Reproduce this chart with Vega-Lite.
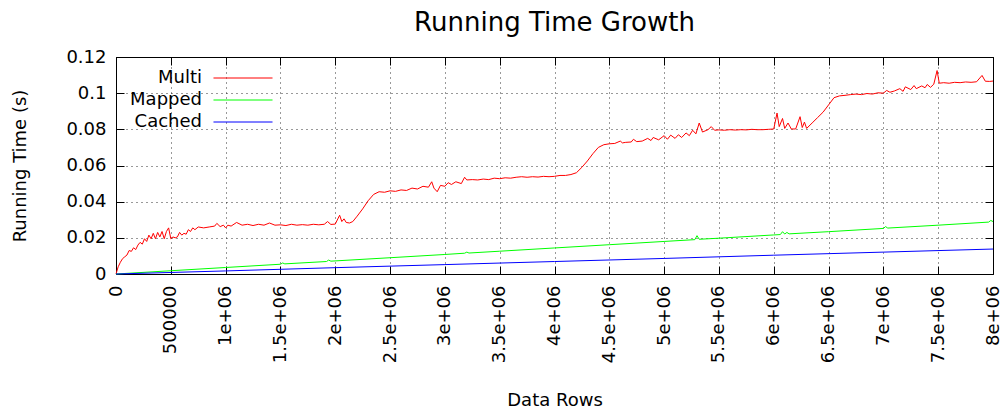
{
  "$schema": "https://vega.github.io/schema/vega-lite/v6.json",
  "width": 877,
  "height": 217,
  "autosize": {"type": "none"},
  "padding": {"left": 116, "top": 57, "right": 8, "bottom": 142},
  "background": "white",
  "title": {"text": "Running Time Growth", "fontSize": 26, "fontWeight": "normal", "font": "DejaVu Sans", "anchor": "middle", "offset": 12, "color": "black"},
  "data": {
    "values": [
      {"rows":0,"time":0,"series":"Multi"},{"rows":20000,"time":0.004,"series":"Multi"},{"rows":40000,"time":0.0065,"series":"Multi"},{"rows":60000,"time":0.0085,"series":"Multi"},{"rows":80000,"time":0.0095,"series":"Multi"},{"rows":100000,"time":0.0105,"series":"Multi"},{"rows":120000,"time":0.013,"series":"Multi"},{"rows":140000,"time":0.0125,"series":"Multi"},{"rows":160000,"time":0.0145,"series":"Multi"},{"rows":180000,"time":0.0135,"series":"Multi"},{"rows":200000,"time":0.016,"series":"Multi"},{"rows":220000,"time":0.0175,"series":"Multi"},{"rows":240000,"time":0.0165,"series":"Multi"},{"rows":260000,"time":0.0195,"series":"Multi"},{"rows":280000,"time":0.018,"series":"Multi"},{"rows":300000,"time":0.0215,"series":"Multi"},{"rows":320000,"time":0.0195,"series":"Multi"},{"rows":340000,"time":0.0225,"series":"Multi"},{"rows":360000,"time":0.0195,"series":"Multi"},{"rows":380000,"time":0.023,"series":"Multi"},{"rows":400000,"time":0.0205,"series":"Multi"},{"rows":420000,"time":0.0235,"series":"Multi"},{"rows":440000,"time":0.0195,"series":"Multi"},{"rows":460000,"time":0.0235,"series":"Multi"},{"rows":480000,"time":0.0255,"series":"Multi"},{"rows":500000,"time":0.0195,"series":"Multi"},{"rows":520000,"time":0.0205,"series":"Multi"},{"rows":540000,"time":0.02,"series":"Multi"},{"rows":560000,"time":0.0205,"series":"Multi"},{"rows":580000,"time":0.023,"series":"Multi"},{"rows":600000,"time":0.0215,"series":"Multi"},{"rows":620000,"time":0.0225,"series":"Multi"},{"rows":640000,"time":0.022,"series":"Multi"},{"rows":660000,"time":0.0245,"series":"Multi"},{"rows":680000,"time":0.0235,"series":"Multi"},{"rows":700000,"time":0.0255,"series":"Multi"},{"rows":720000,"time":0.0245,"series":"Multi"},{"rows":750000,"time":0.026,"series":"Multi"},{"rows":800000,"time":0.0255,"series":"Multi"},{"rows":850000,"time":0.026,"series":"Multi"},{"rows":900000,"time":0.0265,"series":"Multi"},{"rows":920000,"time":0.028,"series":"Multi"},{"rows":950000,"time":0.0262,"series":"Multi"},{"rows":980000,"time":0.027,"series":"Multi"},{"rows":1000000,"time":0.0255,"series":"Multi"},{"rows":1020000,"time":0.027,"series":"Multi"},{"rows":1050000,"time":0.0265,"series":"Multi"},{"rows":1100000,"time":0.0285,"series":"Multi"},{"rows":1150000,"time":0.027,"series":"Multi"},{"rows":1200000,"time":0.0275,"series":"Multi"},{"rows":1250000,"time":0.0268,"series":"Multi"},{"rows":1300000,"time":0.0275,"series":"Multi"},{"rows":1350000,"time":0.027,"series":"Multi"},{"rows":1400000,"time":0.0282,"series":"Multi"},{"rows":1450000,"time":0.027,"series":"Multi"},{"rows":1500000,"time":0.0272,"series":"Multi"},{"rows":1550000,"time":0.0268,"series":"Multi"},{"rows":1600000,"time":0.0275,"series":"Multi"},{"rows":1650000,"time":0.027,"series":"Multi"},{"rows":1700000,"time":0.0273,"series":"Multi"},{"rows":1750000,"time":0.027,"series":"Multi"},{"rows":1800000,"time":0.0275,"series":"Multi"},{"rows":1850000,"time":0.0272,"series":"Multi"},{"rows":1900000,"time":0.0275,"series":"Multi"},{"rows":1930000,"time":0.029,"series":"Multi"},{"rows":1960000,"time":0.0274,"series":"Multi"},{"rows":2000000,"time":0.0276,"series":"Multi"},{"rows":2040000,"time":0.0325,"series":"Multi"},{"rows":2060000,"time":0.029,"series":"Multi"},{"rows":2080000,"time":0.0305,"series":"Multi"},{"rows":2100000,"time":0.0285,"series":"Multi"},{"rows":2130000,"time":0.0282,"series":"Multi"},{"rows":2160000,"time":0.029,"series":"Multi"},{"rows":2200000,"time":0.032,"series":"Multi"},{"rows":2250000,"time":0.036,"series":"Multi"},{"rows":2300000,"time":0.0405,"series":"Multi"},{"rows":2350000,"time":0.044,"series":"Multi"},{"rows":2400000,"time":0.0455,"series":"Multi"},{"rows":2450000,"time":0.0452,"series":"Multi"},{"rows":2500000,"time":0.046,"series":"Multi"},{"rows":2550000,"time":0.0457,"series":"Multi"},{"rows":2600000,"time":0.0465,"series":"Multi"},{"rows":2650000,"time":0.0462,"series":"Multi"},{"rows":2700000,"time":0.0475,"series":"Multi"},{"rows":2750000,"time":0.047,"series":"Multi"},{"rows":2800000,"time":0.0485,"series":"Multi"},{"rows":2850000,"time":0.048,"series":"Multi"},{"rows":2880000,"time":0.051,"series":"Multi"},{"rows":2900000,"time":0.0475,"series":"Multi"},{"rows":2930000,"time":0.0455,"series":"Multi"},{"rows":2960000,"time":0.049,"series":"Multi"},{"rows":3000000,"time":0.0485,"series":"Multi"},{"rows":3030000,"time":0.0505,"series":"Multi"},{"rows":3060000,"time":0.0495,"series":"Multi"},{"rows":3100000,"time":0.051,"series":"Multi"},{"rows":3150000,"time":0.05,"series":"Multi"},{"rows":3180000,"time":0.0535,"series":"Multi"},{"rows":3200000,"time":0.052,"series":"Multi"},{"rows":3250000,"time":0.0522,"series":"Multi"},{"rows":3300000,"time":0.052,"series":"Multi"},{"rows":3350000,"time":0.0525,"series":"Multi"},{"rows":3400000,"time":0.0522,"series":"Multi"},{"rows":3450000,"time":0.053,"series":"Multi"},{"rows":3500000,"time":0.0527,"series":"Multi"},{"rows":3550000,"time":0.0532,"series":"Multi"},{"rows":3600000,"time":0.053,"series":"Multi"},{"rows":3650000,"time":0.0535,"series":"Multi"},{"rows":3700000,"time":0.0538,"series":"Multi"},{"rows":3750000,"time":0.0535,"series":"Multi"},{"rows":3800000,"time":0.0538,"series":"Multi"},{"rows":3850000,"time":0.0536,"series":"Multi"},{"rows":3900000,"time":0.054,"series":"Multi"},{"rows":3950000,"time":0.0538,"series":"Multi"},{"rows":4000000,"time":0.054,"series":"Multi"},{"rows":4050000,"time":0.0545,"series":"Multi"},{"rows":4100000,"time":0.0545,"series":"Multi"},{"rows":4150000,"time":0.055,"series":"Multi"},{"rows":4200000,"time":0.056,"series":"Multi"},{"rows":4250000,"time":0.059,"series":"Multi"},{"rows":4300000,"time":0.0625,"series":"Multi"},{"rows":4350000,"time":0.0665,"series":"Multi"},{"rows":4400000,"time":0.07,"series":"Multi"},{"rows":4450000,"time":0.0715,"series":"Multi"},{"rows":4500000,"time":0.072,"series":"Multi"},{"rows":4550000,"time":0.0722,"series":"Multi"},{"rows":4600000,"time":0.0735,"series":"Multi"},{"rows":4620000,"time":0.0725,"series":"Multi"},{"rows":4650000,"time":0.0728,"series":"Multi"},{"rows":4700000,"time":0.073,"series":"Multi"},{"rows":4720000,"time":0.0745,"series":"Multi"},{"rows":4750000,"time":0.0732,"series":"Multi"},{"rows":4800000,"time":0.0735,"series":"Multi"},{"rows":4850000,"time":0.075,"series":"Multi"},{"rows":4880000,"time":0.0738,"series":"Multi"},{"rows":4900000,"time":0.0755,"series":"Multi"},{"rows":4950000,"time":0.0742,"series":"Multi"},{"rows":5000000,"time":0.0765,"series":"Multi"},{"rows":5030000,"time":0.0745,"series":"Multi"},{"rows":5060000,"time":0.0768,"series":"Multi"},{"rows":5100000,"time":0.075,"series":"Multi"},{"rows":5130000,"time":0.077,"series":"Multi"},{"rows":5160000,"time":0.0755,"series":"Multi"},{"rows":5200000,"time":0.078,"series":"Multi"},{"rows":5230000,"time":0.0765,"series":"Multi"},{"rows":5260000,"time":0.0795,"series":"Multi"},{"rows":5290000,"time":0.0775,"series":"Multi"},{"rows":5320000,"time":0.0835,"series":"Multi"},{"rows":5350000,"time":0.0785,"series":"Multi"},{"rows":5400000,"time":0.0798,"series":"Multi"},{"rows":5430000,"time":0.0815,"series":"Multi"},{"rows":5460000,"time":0.0795,"series":"Multi"},{"rows":5500000,"time":0.0797,"series":"Multi"},{"rows":5550000,"time":0.0795,"series":"Multi"},{"rows":5600000,"time":0.0798,"series":"Multi"},{"rows":5650000,"time":0.0796,"series":"Multi"},{"rows":5700000,"time":0.0798,"series":"Multi"},{"rows":5750000,"time":0.0797,"series":"Multi"},{"rows":5800000,"time":0.08,"series":"Multi"},{"rows":5850000,"time":0.0798,"series":"Multi"},{"rows":5900000,"time":0.0798,"series":"Multi"},{"rows":5950000,"time":0.08,"series":"Multi"},{"rows":6000000,"time":0.0802,"series":"Multi"},{"rows":6030000,"time":0.089,"series":"Multi"},{"rows":6050000,"time":0.0815,"series":"Multi"},{"rows":6080000,"time":0.086,"series":"Multi"},{"rows":6100000,"time":0.0805,"series":"Multi"},{"rows":6130000,"time":0.0835,"series":"Multi"},{"rows":6160000,"time":0.0802,"series":"Multi"},{"rows":6200000,"time":0.0802,"series":"Multi"},{"rows":6240000,"time":0.087,"series":"Multi"},{"rows":6260000,"time":0.081,"series":"Multi"},{"rows":6280000,"time":0.084,"series":"Multi"},{"rows":6300000,"time":0.0805,"series":"Multi"},{"rows":6350000,"time":0.0835,"series":"Multi"},{"rows":6400000,"time":0.0865,"series":"Multi"},{"rows":6450000,"time":0.0895,"series":"Multi"},{"rows":6500000,"time":0.0935,"series":"Multi"},{"rows":6550000,"time":0.0975,"series":"Multi"},{"rows":6600000,"time":0.0985,"series":"Multi"},{"rows":6650000,"time":0.0988,"series":"Multi"},{"rows":6700000,"time":0.0992,"series":"Multi"},{"rows":6750000,"time":0.0995,"series":"Multi"},{"rows":6800000,"time":0.0992,"series":"Multi"},{"rows":6850000,"time":0.0998,"series":"Multi"},{"rows":6900000,"time":0.0995,"series":"Multi"},{"rows":6950000,"time":0.1002,"series":"Multi"},{"rows":7000000,"time":0.1,"series":"Multi"},{"rows":7030000,"time":0.1015,"series":"Multi"},{"rows":7060000,"time":0.1005,"series":"Multi"},{"rows":7100000,"time":0.1012,"series":"Multi"},{"rows":7150000,"time":0.1025,"series":"Multi"},{"rows":7180000,"time":0.101,"series":"Multi"},{"rows":7200000,"time":0.1035,"series":"Multi"},{"rows":7250000,"time":0.102,"series":"Multi"},{"rows":7280000,"time":0.1042,"series":"Multi"},{"rows":7300000,"time":0.1025,"series":"Multi"},{"rows":7350000,"time":0.104,"series":"Multi"},{"rows":7380000,"time":0.103,"series":"Multi"},{"rows":7400000,"time":0.1048,"series":"Multi"},{"rows":7430000,"time":0.1032,"series":"Multi"},{"rows":7460000,"time":0.105,"series":"Multi"},{"rows":7490000,"time":0.1125,"series":"Multi"},{"rows":7510000,"time":0.1055,"series":"Multi"},{"rows":7550000,"time":0.1058,"series":"Multi"},{"rows":7600000,"time":0.1055,"series":"Multi"},{"rows":7650000,"time":0.106,"series":"Multi"},{"rows":7700000,"time":0.1058,"series":"Multi"},{"rows":7750000,"time":0.1062,"series":"Multi"},{"rows":7800000,"time":0.106,"series":"Multi"},{"rows":7850000,"time":0.1063,"series":"Multi"},{"rows":7900000,"time":0.1098,"series":"Multi"},{"rows":7930000,"time":0.1066,"series":"Multi"},{"rows":7970000,"time":0.1065,"series":"Multi"},{"rows":8000000,"time":0.1067,"series":"Multi"},
      {"rows":0,"time":0,"series":"Mapped"},{"rows":500000,"time":0.0018,"series":"Mapped"},{"rows":1000000,"time":0.0036,"series":"Mapped"},{"rows":1500000,"time":0.0054,"series":"Mapped"},{"rows":1520000,"time":0.0061,"series":"Mapped"},{"rows":1540000,"time":0.0056,"series":"Mapped"},{"rows":1920000,"time":0.0069,"series":"Mapped"},{"rows":1940000,"time":0.0077,"series":"Mapped"},{"rows":1960000,"time":0.0071,"series":"Mapped"},{"rows":2500000,"time":0.009,"series":"Mapped"},{"rows":3000000,"time":0.0108,"series":"Mapped"},{"rows":3180000,"time":0.0115,"series":"Mapped"},{"rows":3200000,"time":0.0121,"series":"Mapped"},{"rows":3220000,"time":0.0116,"series":"Mapped"},{"rows":3500000,"time":0.0126,"series":"Mapped"},{"rows":4000000,"time":0.0144,"series":"Mapped"},{"rows":4500000,"time":0.0162,"series":"Mapped"},{"rows":5000000,"time":0.018,"series":"Mapped"},{"rows":5280000,"time":0.019,"series":"Mapped"},{"rows":5300000,"time":0.0212,"series":"Mapped"},{"rows":5320000,"time":0.0192,"series":"Mapped"},{"rows":5500000,"time":0.0198,"series":"Mapped"},{"rows":6000000,"time":0.0216,"series":"Mapped"},{"rows":6060000,"time":0.0218,"series":"Mapped"},{"rows":6080000,"time":0.0234,"series":"Mapped"},{"rows":6100000,"time":0.0221,"series":"Mapped"},{"rows":6120000,"time":0.023,"series":"Mapped"},{"rows":6140000,"time":0.0222,"series":"Mapped"},{"rows":6500000,"time":0.0234,"series":"Mapped"},{"rows":7000000,"time":0.0252,"series":"Mapped"},{"rows":7020000,"time":0.0262,"series":"Mapped"},{"rows":7040000,"time":0.0254,"series":"Mapped"},{"rows":7500000,"time":0.027,"series":"Mapped"},{"rows":7960000,"time":0.0287,"series":"Mapped"},{"rows":7980000,"time":0.0296,"series":"Mapped"},{"rows":8000000,"time":0.029,"series":"Mapped"},
      {"rows":0,"time":0,"series":"Cached"},{"rows":1000000,"time":0.0017,"series":"Cached"},{"rows":2000000,"time":0.0035,"series":"Cached"},{"rows":3000000,"time":0.0052,"series":"Cached"},{"rows":4000000,"time":0.0069,"series":"Cached"},{"rows":5000000,"time":0.0086,"series":"Cached"},{"rows":6000000,"time":0.0104,"series":"Cached"},{"rows":7000000,"time":0.0121,"series":"Cached"},{"rows":8000000,"time":0.0138,"series":"Cached"}
    ]
  },
  "layer": [
    {
      "mark": {"type": "line", "strokeWidth": 1},
      "encoding": {
        "x": {
          "field": "rows", "type": "quantitative", "title": "Data Rows",
          "scale": {"domain": [0, 8000000], "nice": false, "zero": false},
          "axis": {
            "orient": "bottom",
            "values": [0,500000,1000000,1500000,2000000,2500000,3000000,3500000,4000000,4500000,5000000,5500000,6000000,6500000,7000000,7500000,8000000],
            "labelExpr": "datum.value == 0 ? '0' : datum.value == 500000 ? '500000' : format(datum.value / 1000000, '~g') + 'e+06'",
            "labelAngle": 270, "labelAlign": "right", "labelBaseline": "middle",
            "labelPadding": 19, "labelFlush": false, "labelOverlap": false, "labelFontSize": 18,
            "tickSize": -8, "titleX": 438.5, "titleY": 126, "titleBaseline": "middle", "titleAlign": "center"
          }
        },
        "y": {
          "field": "time", "type": "quantitative", "title": "Running Time (s)",
          "scale": {"domain": [0, 0.12], "nice": false},
          "axis": {
            "orient": "left",
            "values": [0,0.02,0.04,0.06,0.08,0.1,0.12],
            "labelExpr": "datum.value == 0 ? '0' : format(datum.value, '.2~f')",
            "labelPadding": 18, "labelFlush": false, "labelOverlap": false,
            "tickSize": -8, "titleX": -96, "titleY": 108.5, "titleAngle": 270, "titleBaseline": "middle", "titleAlign": "center"
          }
        },
        "color": {
          "field": "series", "type": "nominal",
          "scale": {"domain": ["Multi", "Mapped", "Cached"], "range": ["#ff0000", "#00ff00", "#0000ff"]},
          "legend": {
            "orient": "none", "legendX": 118, "legendY": 12, "title": null,
            "symbolType": "M-4,0H4", "symbolSize": 218, "symbolStrokeWidth": 1, "symbolOpacity": 1,
            "labelAlign": "right", "labelOffset": -50, "labelFontSize": 18, "labelColor": "black",
            "labelLimit": 300, "rowPadding": 4, "padding": 0
          }
        }
      }
    },
    {
      "mark": {"type": "line", "opacity": 0},
      "encoding": {
        "x": {"field": "rows", "type": "quantitative", "scale": {"domain": [0, 8000000], "nice": false, "zero": false},
              "axis": {"orient": "top", "values": [0,500000,1000000,1500000,2000000,2500000,3000000,3500000,4000000,4500000,5000000,5500000,6000000,6500000,7000000,7500000,8000000], "labels": false, "grid": false, "title": null, "tickSize": -8}},
        "y": {"field": "time", "type": "quantitative", "scale": {"domain": [0, 0.12], "nice": false},
              "axis": {"orient": "right", "values": [0,0.02,0.04,0.06,0.08,0.1,0.12], "labels": false, "grid": false, "title": null, "tickSize": -8}},
        "detail": {"field": "series", "type": "nominal"}
      }
    }
  ],
  "resolve": {"axis": {"x": "independent", "y": "independent"}},
  "config": {
    "font": "DejaVu Sans",
    "view": {"stroke": "black", "strokeWidth": 1},
    "axis": {
      "domain": false,
      "grid": true, "gridColor": "black", "gridDash": [1, 4], "gridWidth": 1, "gridOpacity": 0.8,
      "tickColor": "black", "tickWidth": 1,
      "labelFontSize": 18, "labelColor": "black", "labelFont": "DejaVu Sans",
      "titleFontSize": 18, "titleFontWeight": "normal", "titleColor": "black", "titleFont": "DejaVu Sans"
    },
    "legend": {"labelFont": "DejaVu Sans"}
  }
}
